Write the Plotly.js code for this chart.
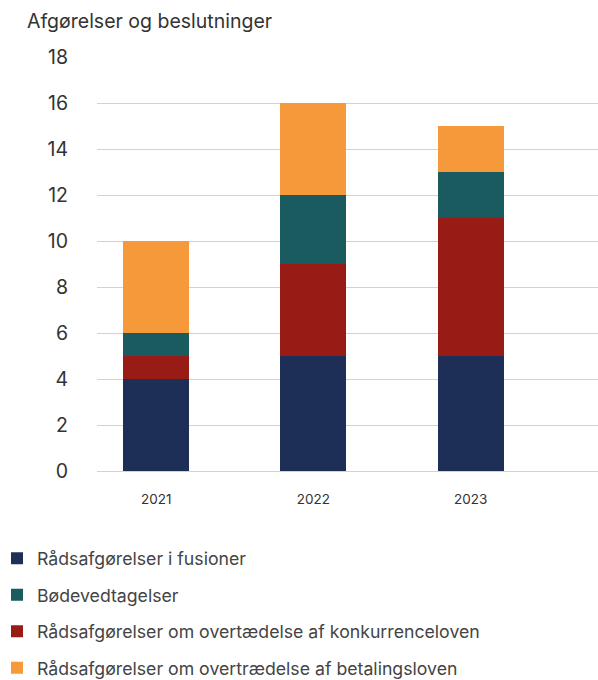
<!DOCTYPE html>
<html>
<head>
<meta charset="utf-8">
<script src="https://cdn.plot.ly/plotly-3.0.1.min.js"></script>
<style>html,body{margin:0;padding:0;background:#fff}#chart{width:598px;height:680px}</style>
</head>
<body>
<div id="chart"></div>
<script>
const years = ['2021', '2022', '2023'];
const fusioner = [4, 5, 5];
const konkurrenceloven = [1, 4, 6];
const boedevedtagelser = [1, 3, 2];
const betalingsloven = [4, 4, 2];
const yTicks = [0, 2, 4, 6, 8, 10, 12, 14, 16, 18];

const FONT = 'Inter, Roboto, sans-serif';
const mk = (name, y, color, rank) => ({
  type: 'bar', name: name, x: years, y: y,
  marker: {color: color, line: {width: 0}},
  width: 0.42, legendrank: rank, legendgroup: name
});

const data = [
  mk('Rådsafgørelser i fusioner', fusioner, '#1e2f57', 1),
  mk('Rådsafgørelser om overtædelse af konkurrenceloven', konkurrenceloven, '#981b16', 3),
  mk('Bødevedtagelser', boedevedtagelser, '#195b5f', 2),
  mk('Rådsafgørelser om overtrædelse af betalingsloven', betalingsloven, '#f5993a', 4)
];

const layout = {
  width: 598, height: 680,
  margin: {l: 97, r: 0, t: 57, b: 209, autoexpand: false},
  paper_bgcolor: '#fff', plot_bgcolor: '#fff',
  barmode: 'stack',
  font: {family: FONT, color: '#333'},
  title: {text: 'Afgørelser og beslutninger', font: {family: FONT, size: 19.5, color: '#333'},
          x: 27/598, xanchor: 'left', xref: 'container', y: 1 - 21/680, yanchor: 'middle', yref: 'container'},
  xaxis: {type: 'category', range: [-0.376, 2.81], showgrid: false, zeroline: false, showline: false,
          ticks: '', tickfont: {family: FONT, size: 13.5, color: '#333'}, ticklabelstandoff: 18, fixedrange: true},
  yaxis: {range: [0, 18.02], tickvals: yTicks, ticktext: yTicks.map(String), showgrid: true, gridcolor: '#d2d2d2', gridwidth: 1,
          zeroline: true, zerolinecolor: '#d2d2d2', zerolinewidth: 1, showline: false, ticks: '',
          tickfont: {family: FONT, size: 19.5, color: '#333'}, ticklabelstandoff: 28, fixedrange: true},
  showlegend: true,
  legend: {orientation: 'v', xref: 'paper', yref: 'paper', x: -0.1996, xanchor: 'left',
           y: -0.167, yanchor: 'top', traceorder: 'grouped', tracegroupgap: 10.5,
           font: {family: FONT, size: 17.7, color: '#444'}, itemwidth: 30, bgcolor: 'rgba(0,0,0,0)'}
};

Plotly.newPlot('chart', data, layout, {displayModeBar: false, staticPlot: true});
</script>
</body>
</html>
